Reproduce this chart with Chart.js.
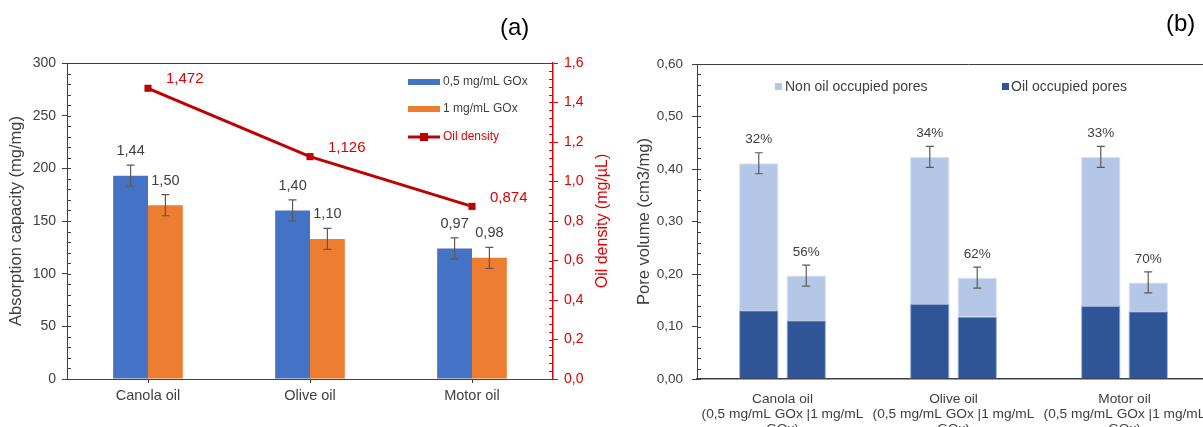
<!DOCTYPE html>
<html>
<head>
<meta charset="utf-8">
<script src="https://cdn.jsdelivr.net/npm/chart.js@4.4.1/dist/chart.umd.min.js"></script>
<style>
  html, body { margin: 0; padding: 0; background: #fff; overflow: hidden; }
  #wrap { position: relative; width: 1203px; height: 427px; overflow: hidden; }
  canvas { position: absolute; top: 0; }
  #left { left: 0; }
  #right { left: 600px; }
  .tag { position: absolute; font-family: "Liberation Sans", Arial, sans-serif; font-size: 24px; color: #000; }
</style>
</head>
<body>
<div id="wrap">
  <canvas id="right" width="640" height="427"></canvas>
  <canvas id="left" width="613" height="427"></canvas>
  <div class="tag" style="left:500px;top:13px;">(a)</div>
  <div class="tag" style="left:1166px;top:9px;">(b)</div>
</div>
<script>
// ---- data, panel (a) ----
const oils = ['Canola oil', 'Olive oil', 'Motor oil'];
const capacityLow = [193, 160, 124];     // 0,5 mg/mL GOx
const capacityHigh = [165, 133, 115];    // 1 mg/mL GOx
const capacityLowErr = [10, 10, 10];
const capacityHighErr = [10, 10, 10];
const ratioLowLabels = ['1,44', '1,40', '0,97'];
const ratioHighLabels = ['1,50', '1,10', '0,98'];
const oilDensity = [1.472, 1.126, 0.874];

// ---- data, panel (b) ----
const poreLabels = [
  ['Canola oil', '(0,5 mg/mL GOx |1 mg/mL', 'GOx)'],
  ['Olive oil', '(0,5 mg/mL GOx |1 mg/mL', 'GOx)'],
  ['Motor oil', '(0,5 mg/mL GOx |1 mg/mL', 'GOx)']
];
const oilPoresLow = [0.131, 0.143, 0.139];
const freePoresLow = [0.280, 0.280, 0.284];
const oilPoresHigh = [0.112, 0.119, 0.129];
const freePoresHigh = [0.085, 0.074, 0.055];
const poreErr = [0.02, 0.02, 0.02];
const percentLow = ['32%', '34%', '33%'];
const percentHigh = ['56%', '62%', '70%'];

const FONT = '"Liberation Sans", Arial, sans-serif';
const TXT = '#404040';
const AXIS = '#404040';
const RED_TXT = '#E00000';
const RED_LINE = '#C00000';
const BLUE = '#4472C4';
const ORANGE = '#ED7D31';
const LIGHT = '#B4C7E7';
const DARK = '#2F5597';

Chart.defaults.font.family = FONT;
Chart.defaults.color = TXT;

const comma = (v, d) => v.toFixed(d).replace('.', ',');

function errorBar(ctx, x, yTop, yBot) {
  ctx.save();
  ctx.strokeStyle = '#5a5a5a';
  ctx.lineWidth = 1.2;
  ctx.beginPath();
  ctx.moveTo(x, yTop); ctx.lineTo(x, yBot);
  ctx.moveTo(x - 4, yTop); ctx.lineTo(x + 4, yTop);
  ctx.moveTo(x - 4, yBot); ctx.lineTo(x + 4, yBot);
  ctx.stroke();
  ctx.restore();
}

// small inward ticks between the labelled ones
function minorTicks(ctx, scale, step, color) {
  const onLeft = scale.position === 'left';
  const x = onLeft ? scale.right : scale.left;
  const dir = onLeft ? 1 : -1;
  ctx.save();
  ctx.strokeStyle = color;
  ctx.lineWidth = 1;
  ctx.beginPath();
  for (let v = scale.min; v <= scale.max + 1e-9; v += step) {
    const y = Math.round(scale.getPixelForValue(v)) + 0.5;
    ctx.moveTo(x, y); ctx.lineTo(x + dir * 4, y);
  }
  ctx.stroke();
  ctx.restore();
}

function topBorder(ctx, area, xEnd) {
  ctx.save();
  ctx.strokeStyle = AXIS;
  ctx.lineWidth = 1;
  ctx.beginPath();
  ctx.moveTo(area.left, area.top + 0.5);
  ctx.lineTo(xEnd, area.top + 0.5);
  ctx.stroke();
  ctx.restore();
}

// ---- panel (a) ----
const leftExtras = {
  id: 'leftExtras',
  afterDatasetsDraw(chart) {
    const ctx = chart.ctx;
    const y = chart.scales.y;
    const area = chart.chartArea;
    topBorder(ctx, area, area.right);
    minorTicks(ctx, y, 10, AXIS);
    minorTicks(ctx, chart.scales.y1, 0.04, RED_TXT);

    const bars = [
      [0, capacityLow, capacityLowErr, ratioLowLabels],
      [1, capacityHigh, capacityHighErr, ratioHighLabels]
    ];
    ctx.save();
    ctx.font = '14.5px ' + FONT;
    ctx.textAlign = 'center';
    ctx.textBaseline = 'middle';
    bars.forEach(([di, vals, errs, labs]) => {
      chart.getDatasetMeta(di).data.forEach((el, i) => {
        const top = y.getPixelForValue(vals[i] + errs[i]);
        errorBar(ctx, el.x, top, y.getPixelForValue(vals[i] - errs[i]));
        ctx.fillStyle = TXT;
        ctx.fillText(labs[i], el.x, top - 14);
      });
    });
    // density labels
    ctx.font = '15px ' + FONT;
    ctx.fillStyle = RED_TXT;
    ctx.textAlign = 'left';
    chart.getDatasetMeta(2).data.forEach((pt, i) => {
      ctx.fillText(comma(oilDensity[i], 3), pt.x + 18, pt.y - 9);
    });

    // right axis title, read bottom to top like the left one
    ctx.save();
    ctx.translate(603, (area.top + area.bottom) / 2);
    ctx.rotate(-Math.PI / 2);
    ctx.textAlign = 'center';
    ctx.font = '16px ' + FONT;
    ctx.fillText('Oil density (mg/µL)', 0, 0);
    ctx.restore();

    // legend
    const lx = 408, lw = 32;
    ctx.font = '12px ' + FONT;
    ctx.fillStyle = BLUE;
    ctx.fillRect(lx, 79, lw, 6);
    ctx.fillStyle = ORANGE;
    ctx.fillRect(lx, 106, lw, 6);
    ctx.strokeStyle = RED_LINE;
    ctx.lineWidth = 3;
    ctx.beginPath();
    ctx.moveTo(lx, 137); ctx.lineTo(lx + lw, 137);
    ctx.stroke();
    ctx.fillStyle = RED_LINE;
    ctx.fillRect(lx + lw / 2 - 4, 133, 8, 8);
    ctx.fillStyle = TXT;
    ctx.fillText('0,5 mg/mL GOx', lx + lw + 3, 82);
    ctx.fillText('1 mg/mL GOx', lx + lw + 3, 109);
    ctx.fillStyle = RED_TXT;
    ctx.fillText('Oil density', lx + lw + 3, 137);
    ctx.restore();
  }
};

new Chart(document.getElementById('left'), {
  type: 'bar',
  data: {
    labels: oils,
    datasets: [
      { label: '0,5 mg/mL GOx', data: capacityLow, backgroundColor: BLUE, order: 2,
        categoryPercentage: 0.43, barPercentage: 1 },
      { label: '1 mg/mL GOx', data: capacityHigh, backgroundColor: ORANGE, order: 2,
        categoryPercentage: 0.43, barPercentage: 1 },
      { type: 'line', label: 'Oil density', data: oilDensity, yAxisID: 'y1', order: 1,
        borderColor: RED_LINE, backgroundColor: RED_LINE, borderWidth: 3,
        pointStyle: 'rect', pointRadius: 5, pointBorderWidth: 0 }
    ]
  },
  options: {
    responsive: false,
    animation: false,
    devicePixelRatio: 1,
    layout: { padding: { top: 63, left: 7, right: 0, bottom: 0 } },
    plugins: { legend: { display: false }, tooltip: { enabled: false } },
    scales: {
      x: {
        grid: { display: true, drawOnChartArea: false, offset: false, tickLength: 4, color: AXIS },
        border: { color: AXIS, width: 1 },
        ticks: { font: { size: 14.5 }, color: TXT, padding: 4 },
        afterFit(s) { s.height = 48; }
      },
      y: {
        position: 'left', min: 0, max: 300,
        grid: { drawOnChartArea: false, tickLength: 5, color: AXIS },
        border: { color: AXIS, width: 1 },
        ticks: { stepSize: 50, font: { size: 14 }, color: TXT, padding: 6 },
        title: { display: true, text: 'Absorption capacity (mg/mg)', font: { size: 16.5 }, color: TXT, padding: 0 },
        afterFit(s) { s.width = 60; }
      },
      y1: {
        position: 'right', min: 0, max: 1.6,
        grid: { drawOnChartArea: false, tickLength: 5, color: RED_TXT },
        border: { color: RED_TXT, width: 1.5 },
        ticks: { stepSize: 0.2, font: { size: 14 }, color: RED_TXT, padding: 6,
          callback: v => comma(v, 1) },
        afterFit(s) { s.width = 60; }
      }
    }
  },
  plugins: [leftExtras]
});

// ---- panel (b) ----
const rightExtras = {
  id: 'rightExtras',
  afterDatasetsDraw(chart) {
    const ctx = chart.ctx;
    const y = chart.scales.y;
    topBorder(ctx, chart.chartArea, chart.width);
    minorTicks(ctx, y, 0.02, AXIS);

    const groups = [
      [1, oilPoresLow, freePoresLow, percentLow],
      [3, oilPoresHigh, freePoresHigh, percentHigh]
    ];
    ctx.save();
    ctx.font = '13.5px ' + FONT;
    ctx.textAlign = 'center';
    ctx.textBaseline = 'middle';
    groups.forEach(([di, oil, free, labs]) => {
      chart.getDatasetMeta(di).data.forEach((el, i) => {
        const total = oil[i] + free[i];
        const top = y.getPixelForValue(total + poreErr[i]);
        errorBar(ctx, el.x, top, y.getPixelForValue(total - poreErr[i]));
        ctx.fillStyle = TXT;
        ctx.fillText(labs[i], el.x, top - 13);
      });
    });
    // legend
    ctx.font = '14px ' + FONT;
    ctx.textAlign = 'left';
    ctx.fillStyle = LIGHT;
    ctx.fillRect(175, 83, 7, 7);
    ctx.fillStyle = DARK;
    ctx.fillRect(402, 83, 7, 7);
    ctx.fillStyle = TXT;
    ctx.fillText('Non oil occupied pores', 185, 87);
    ctx.fillText('Oil occupied pores', 411, 87);
    ctx.restore();
  }
};

const barOpts = { categoryPercentage: 0.555, barPercentage: 0.83, borderWidth: 1 };

new Chart(document.getElementById('right'), {
  type: 'bar',
  data: {
    labels: poreLabels,
    datasets: [
      Object.assign({ label: 'Oil occupied pores', data: oilPoresLow, stack: 'low',
        backgroundColor: DARK, borderColor: '#8FA9D6' }, barOpts),
      Object.assign({ label: 'Non oil occupied pores', data: freePoresLow, stack: 'low',
        backgroundColor: LIGHT, borderColor: '#D6E0F2' }, barOpts),
      Object.assign({ label: 'Oil occupied pores', data: oilPoresHigh, stack: 'high',
        backgroundColor: DARK, borderColor: '#8FA9D6' }, barOpts),
      Object.assign({ label: 'Non oil occupied pores', data: freePoresHigh, stack: 'high',
        backgroundColor: LIGHT, borderColor: '#D6E0F2' }, barOpts)
    ]
  },
  options: {
    responsive: false,
    animation: false,
    devicePixelRatio: 1,
    layout: { padding: { top: 64, left: 35, right: 30, bottom: 0 } },
    plugins: { legend: { display: false }, tooltip: { enabled: false } },
    scales: {
      x: {
        stacked: true,
        grid: { display: false },
        border: { color: AXIS, width: 1.5 },
        ticks: { font: { size: 13.7, lineHeight: 1.1 }, color: TXT, padding: 5, maxRotation: 0, autoSkip: false },
        afterFit(s) { s.height = 48; }
      },
      y: {
        stacked: true, min: 0, max: 0.6,
        grid: { drawOnChartArea: false, tickLength: 5, color: AXIS },
        border: { color: AXIS, width: 1 },
        ticks: { stepSize: 0.1, font: { size: 13.5 }, color: TXT, padding: 9,
          callback: v => comma(v, 2) },
        title: { display: true, text: 'Pore volume (cm3/mg)', font: { size: 16.5 }, color: TXT, padding: 0 },
        afterFit(s) { s.width = 62; }
      }
    }
  },
  plugins: [rightExtras]
});
</script>
</body>
</html>
